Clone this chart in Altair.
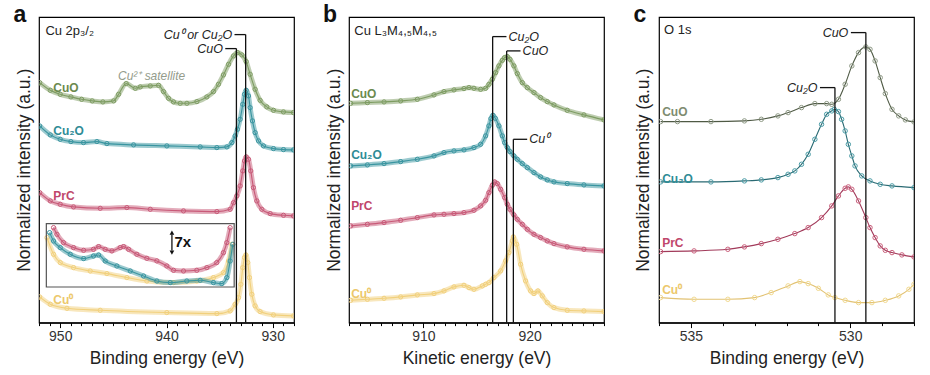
import altair as alt
import pandas as pd

FONT = "Liberation Sans"

# ---------------- Panel a : Cu 2p3/2 (binding energy, eV) ----------------
A_CUO_E = [951.94, 950.94, 950.0, 949.0, 947.99, 946.99, 945.99, 944.98, 944.51, 943.79, 942.94, 942.47,
           941.53, 940.75, 940.28, 939.81, 939.34, 938.71, 938.08, 937.14, 936.20, 935.58, 935.11, 934.64,
           934.16, 933.69, 933.32, 932.91, 932.50, 932.13, 931.66, 931.19, 930.56, 929.93, 928.99, 928.05]
A_CUO_I = [240.0, 232.3, 228.3, 225.7, 223.3, 221.7, 220.7, 221.7, 228.3, 239.0, 234.3, 235.7,
           236.7, 237.3, 231.0, 224.3, 220.7, 219.3, 219.3, 221.0, 225.7, 231.0, 238.3, 247.7,
           258.3, 266.7, 270.0, 267.7, 261.0, 248.3, 233.3, 222.3, 215.7, 212.3, 210.7, 210.0]
A_CU2O_E = [951.94, 950.94, 950.0, 949.0, 947.81, 946.55, 945.61, 943.10, 939.97, 936.83, 935.26, 934.32,
            933.85, 933.54, 933.32, 933.07, 932.82, 932.66, 932.50, 932.28, 932.13, 931.91, 931.66, 931.34,
            930.87, 929.93, 928.99, 928.05]
A_CU2O_I = [196.7, 187.7, 183.3, 181.0, 180.0, 181.0, 179.0, 177.7, 176.7, 175.7, 175.0, 175.7,
            180.0, 186.7, 193.3, 203.3, 218.3, 228.3, 232.3, 226.7, 215.0, 201.7, 190.0, 181.7,
            176.7, 174.0, 173.0, 172.7]
A_PRC_E = [951.94, 950.94, 950.0, 948.75, 946.24, 943.73, 941.53, 938.40, 935.26, 934.01, 933.69, 933.38,
           933.07, 932.82, 932.66, 932.50, 932.28, 932.07, 931.82, 931.50, 931.03, 930.24, 928.99, 928.05]
A_PRC_I = [130.0, 121.7, 118.3, 115.7, 114.3, 115.0, 113.3, 111.7, 111.0, 113.3, 120.0, 126.7,
           136.7, 151.7, 161.7, 165.7, 163.3, 151.7, 135.0, 121.7, 113.3, 109.0, 107.3, 106.7]
A_CU0_E = [951.94, 950.94, 949.37, 946.24, 939.97, 935.26, 934.01, 933.54, 933.22, 933.0, 932.82, 932.66,
           932.53, 932.35, 932.19, 931.97, 931.66, 931.19, 929.93, 928.05]
A_CU0_I = [25.7, 18.3, 14.3, 12.3, 10.0, 9.0, 11.7, 18.3, 25.0, 38.3, 55.0, 65.0,
           67.7, 60.0, 45.0, 28.3, 16.7, 11.0, 7.7, 6.7]
# inset (7x magnified, drawn in panel coordinates)
IN_PRC_E = [950.63, 950.31, 949.69, 948.75, 947.80, 946.87, 946.39, 945.77, 945.14, 944.36, 944.04, 943.57,
            942.79, 941.85, 940.91, 939.97, 939.34, 938.40, 937.15, 936.20, 935.27, 934.64, 934.32, 934.01]
IN_PRC_I = [95.0, 88.3, 80.0, 75.0, 72.3, 73.3, 76.0, 73.3, 71.7, 75.0, 76.0, 73.3,
            68.3, 64.3, 61.7, 56.6, 52.3, 51.6, 52.3, 55.0, 60.0, 70.0, 80.0, 95.0]
IN_CU2O_E = [951.0, 950.63, 950.0, 949.06, 947.80, 946.87, 946.39, 945.77, 944.67, 943.41, 942.16, 940.91,
             939.65, 938.09, 936.83, 935.58, 934.80, 934.32, 934.01, 933.76]
IN_CU2O_I = [90.0, 81.6, 75.0, 68.3, 64.0, 66.6, 67.6, 61.6, 56.6, 51.6, 46.6, 41.6,
             40.0, 41.6, 42.3, 40.0, 39.0, 45.0, 61.6, 78.3]
IN_CU0_E = [951.25, 950.63, 950.0, 948.75, 947.18, 945.61, 943.73, 941.85, 939.34, 937.15, 935.58, 934.64,
            934.17, 933.85]
IN_CU0_I = [85.0, 68.3, 60.0, 55.0, 51.6, 49.0, 45.0, 41.6, 40.0, 41.6, 45.0, 50.0, 61.6, 78.3]
INSET_BOX = [951.31, 933.63, 35.6, 99.0]          # E left, E right, I bottom, I top
ARROW = [939.49, 70.0, 90.0]                      # E, I bottom, I top

# ---------------- Panel b : Cu LMM (kinetic energy, eV) ----------------
B_E = [903.16, 904.73, 906.30, 907.86, 909.43, 911.0, 911.94, 912.88, 913.82, 914.29, 914.76, 915.39,
       915.86, 916.17, 916.49, 916.80, 917.11, 917.43, 917.65, 917.90, 918.15, 918.52, 918.84, 919.31,
       919.78, 920.41, 921.03, 921.66, 922.29, 923.54, 925.11, 926.99]
B_CUO_I = [219.3, 220.0, 220.7, 221.7, 223.3, 227.7, 231.0, 232.7, 234.0, 235.0, 234.3, 233.3,
           234.3, 238.3, 243.3, 250.0, 256.7, 262.3, 265.0, 266.0, 263.3, 256.7, 249.0, 240.0,
           235.0, 230.0, 225.0, 221.0, 217.7, 212.3, 207.7, 202.7]
B_CU2O_E = [903.16, 904.73, 906.30, 907.86, 909.43, 911.0, 911.94, 912.88, 913.82, 914.76, 915.39, 915.86,
            916.17, 916.36, 916.55, 916.77, 917.11, 917.43, 917.65, 917.90, 918.15, 918.52, 918.84, 919.31,
            919.78, 920.41, 921.03, 921.66, 922.29, 923.54, 925.11, 926.99]
B_CU2O_I = [156.7, 157.7, 159.0, 161.0, 163.3, 166.7, 170.0, 171.7, 172.7, 175.0, 178.3, 186.7,
            196.7, 204.0, 207.3, 204.3, 196.7, 186.7, 180.0, 175.0, 171.0, 166.7, 163.3, 159.0,
            155.0, 150.0, 145.7, 142.7, 140.7, 139.0, 137.7, 136.7]
B_PRC_E = [903.16, 904.73, 906.30, 907.86, 909.43, 911.0, 911.94, 912.88, 913.82, 914.76, 915.39, 915.86,
           916.17, 916.49, 916.71, 916.96, 917.27, 917.65, 917.90, 918.15, 918.52, 918.84, 919.31, 919.78,
           920.41, 921.03, 921.66, 922.29, 923.54, 925.11, 926.99]
B_PRC_I = [96.7, 98.3, 100.0, 102.3, 105.0, 107.7, 108.3, 109.0, 110.0, 112.3, 116.7, 122.3,
           130.0, 137.3, 140.7, 139.0, 133.3, 125.0, 118.3, 113.3, 107.7, 103.3, 98.3, 93.3,
           88.3, 85.0, 81.7, 79.0, 75.7, 73.3, 71.7]
B_CU0_E = [903.16, 904.73, 906.30, 907.86, 909.43, 911.0, 911.94, 912.88, 913.82, 914.29, 914.76, 915.55,
           915.86, 916.17, 916.64, 917.27, 917.74, 918.05, 918.37, 918.47, 918.78, 919.15, 919.62, 920.09,
           920.41, 920.78, 921.19, 921.66, 922.29, 923.54, 925.11, 926.99]
B_CU0_I = [22.3, 23.3, 24.3, 25.7, 27.7, 29.0, 31.7, 35.7, 37.3, 35.0, 33.3, 36.7,
           38.3, 40.0, 45.0, 51.7, 61.7, 70.0, 81.7, 85.7, 78.3, 58.3, 41.7, 31.7,
           29.0, 31.7, 26.7, 20.0, 15.0, 12.3, 11.7, 11.0]

# ---------------- Panel c : O 1s (binding energy, eV) ----------------
C_CUO_E = [535.95, 535.42, 534.37, 533.32, 532.79, 532.27, 531.95, 531.53, 531.11, 530.74, 530.58, 530.37,
           530.16, 529.95, 529.74, 529.51, 529.38, 529.22, 529.06, 528.90, 528.69, 528.48, 528.27, 528.0]
C_CUO_I = [201.0, 201.0, 201.0, 201.7, 203.3, 206.7, 210.0, 215.0, 219.0, 219.0, 218.3, 223.3,
           238.3, 256.7, 270.0, 275.7, 273.3, 261.7, 245.0, 229.0, 213.3, 206.7, 202.7, 200.7]
C_CU2O_E = [535.95, 534.37, 533.32, 532.79, 532.27, 531.95, 531.74, 531.53, 531.32, 531.11, 530.90, 530.74,
            530.58, 530.50, 530.37, 530.27, 530.16, 530.06, 529.95, 529.85, 529.64, 529.38, 529.06, 528.69,
            528.0]
C_CU2O_I = [140.7, 140.7, 141.7, 142.7, 145.0, 148.3, 151.7, 158.3, 168.3, 183.3, 198.3, 208.3,
            211.7, 213.3, 211.0, 203.3, 191.7, 178.3, 166.7, 156.7, 146.7, 141.7, 138.3, 136.7,
            135.0]
C_PRC_E = [535.95, 534.9, 533.84, 533.32, 532.79, 532.27, 531.74, 531.32, 530.90, 530.58, 530.37, 530.16,
           530.06, 529.95, 529.74, 529.51, 529.38, 529.22, 529.06, 528.90, 528.69, 528.38, 528.0]
C_PRC_I = [71.0, 71.7, 73.3, 75.7, 79.0, 83.3, 89.0, 95.0, 105.0, 116.7, 126.7, 134.3,
           135.7, 133.3, 121.7, 105.0, 95.0, 85.0, 76.7, 72.3, 70.0, 67.7, 65.7]
C_CU0_E = [535.95, 534.9, 533.84, 533.0, 532.48, 531.95, 531.58, 531.32, 531.0, 530.69, 530.48, 530.16,
           529.74, 529.32, 528.9, 528.48, 528.16, 528.0]
C_CU0_I = [25.0, 23.3, 23.3, 25.0, 30.0, 36.7, 41.0, 39.0, 34.3, 27.7, 25.0, 22.3,
           20.0, 20.0, 22.3, 26.7, 33.3, 38.3]

SERIES_LABELS = ["CuO", "Cu₂O", "PrC", "Cu⁰"]
A_LABEL_I = [235.0, 191.7, 126.7, 23.0]
B_LABEL_I = [229.0, 167.7, 116.7, 28.3]
C_LABEL_I = [211.0, 143.3, 80.0, 32.3]

# reference lines: [E, top]
A_REF = [[933.42, 274.0], [932.55, 288.0]]
A_REF_TXT = ["CuO", "Cu⁰ or Cu₂O"]
B_REF = [[916.52, 286.0], [917.84, 271.7], [918.47, 183.3]]
B_REF_TXT = ["Cu₂O", "CuO", "Cu⁰"]
C_REF = [[530.48, 235.0], [529.51, 290.0]]
C_REF_TXT = ["Cu₂O", "CuO"]

# ------------- styles -------------
COL_AB = {"CuO": "#7d9c62", "Cu2O": "#3a95a0", "PrC": "#c85a78", "Cu0": "#f1d07c"}
COL_C = {"CuO": "#8f9a86", "Cu2O": "#4b9ca6", "PrC": "#c9607c", "Cu0": "#f0d88f"}
LINE_C = {"CuO": "#4f5a45", "Cu2O": "#2a6a73", "PrC": "#a13a5a", "Cu0": "#e2c273"}
LAB_COL = ["#6b8a4e", "#2f8c96", "#c0476b", "#ecc86c"]
LAB_COL_C = ["#7e8c70", "#2f8c96", "#c0476b", "#ecc86c"]

H = 305.6
W = 255


def xenc(dom, rev, title, vals, major):
    axis = alt.Axis(
        title=title, values=vals,
        labelExpr=f"datum.value % {major} === 0 ? datum.label : ''",
        tickSize={"condition": {"test": f"datum.value % {major} === 0", "value": 5}, "value": 3},
        tickColor="black", tickWidth=1, domainColor="black", domainWidth=1.2, grid=False,
        labelFont=FONT, labelFontSize=14, labelColor="#333", labelPadding=2,
        titleFont=FONT, titleFontSize=17.5, titleFontWeight="normal", titleColor="#222", titlePadding=6)
    return alt.X("E:Q", scale=alt.Scale(domain=dom, reverse=rev, nice=False, zero=False), axis=axis)


YENC = alt.Y("I:Q", scale=alt.Scale(domain=[0, H], nice=False, zero=False),
             axis=alt.Axis(title="Normalized intensity (a.u.)", labels=False, ticks=False, domain=False,
                           grid=False, titleFont=FONT, titleFontSize=17.5, titleFontWeight="normal",
                           titleColor="#222", titlePadding=6))


def curve(E, I, col, dark, band, size, X):
    df = pd.DataFrame({"E": E, "I": I})
    base = alt.Chart(df).encode(x=X, y=YENC)
    layers = []
    if band > 0:
        layers.append(base.mark_line(color=col, strokeWidth=band, opacity=0.5, interpolate="monotone", clip=True))
    layers.append(base.mark_line(color=dark, strokeWidth=1.1, interpolate="monotone", clip=True))
    layers.append(base.mark_point(shape="circle", filled=False, color=col, size=size, strokeWidth=1,
                                  opacity=1, clip=True))
    return layers


def refs(REF, TXT, X, dE, gap, align):
    E = [r[0] for r in REF]
    top = [r[1] for r in REF]
    vdf = pd.DataFrame({"E": E, "I": [0.0] * len(E), "I2": top})
    hdf = pd.DataFrame({"E": E, "E2": [e + dE for e in E], "I": top})
    tdf = pd.DataFrame({"E": [e + dE + gap for e in E], "I": top, "t": TXT})
    v = alt.Chart(vdf).mark_rule(color="#111", strokeWidth=1.3).encode(x=X, y=YENC, y2="I2:Q")
    h = alt.Chart(hdf).mark_rule(color="#111", strokeWidth=1.3).encode(x=X, x2="E2:Q", y=YENC)
    t = alt.Chart(tdf).mark_text(font=FONT, fontSize=12.5, fontStyle="italic", color="#222",
                                 align=align, baseline="middle").encode(x=X, y=YENC, text="t:N")
    return [v, h, t]


def series_labels(E0, Is, cols, X):
    df = pd.DataFrame({"E": [E0] * 4, "I": Is, "t": SERIES_LABELS, "c": cols})
    return alt.Chart(df).mark_text(font=FONT, fontSize=12, fontWeight="bold", align="left",
                                   baseline="middle").encode(x=X, y=YENC, text="t:N",
                                                             color=alt.Color("c:N", scale=None))


def note(E0, I0, txt, X, size=13, style="normal", color="#222", align="left", weight="normal"):
    df = pd.DataFrame({"E": [E0], "I": [I0], "t": [txt]})
    return alt.Chart(df).mark_text(font=FONT, fontSize=size, fontStyle=style, color=color, align=align,
                                   fontWeight=weight, baseline="middle").encode(x=X, y=YENC, text="t:N")


def letter(ch):
    df = pd.DataFrame({"t": [ch]})
    return alt.Chart(df).mark_text(font=FONT, fontSize=23, fontWeight="bold", color="#111", align="center",
                                   baseline="alphabetic").encode(text="t:N", x=alt.value(-19), y=alt.value(5))


# ---------- panel a ----------
XA = xenc([928, 952], True, "Binding energy (eV)", list(range(928, 953)), 10)
la = []
la += curve(A_CUO_E, A_CUO_I, COL_AB["CuO"], COL_AB["CuO"], 5, 18, XA)
la += curve(A_CU2O_E, A_CU2O_I, COL_AB["Cu2O"], COL_AB["Cu2O"], 5, 18, XA)
la += curve(A_PRC_E, A_PRC_I, COL_AB["PrC"], COL_AB["PrC"], 5, 18, XA)
la += curve(A_CU0_E, A_CU0_I, COL_AB["Cu0"], COL_AB["Cu0"], 5, 18, XA)
la += curve(IN_CU0_E, IN_CU0_I, COL_AB["Cu0"], COL_AB["Cu0"], 5, 18, XA)
la += curve(IN_CU2O_E, IN_CU2O_I, COL_AB["Cu2O"], COL_AB["Cu2O"], 5, 18, XA)
la += curve(IN_PRC_E, IN_PRC_I, COL_AB["PrC"], COL_AB["PrC"], 5, 18, XA)
box = pd.DataFrame({"E": [INSET_BOX[0]], "E2": [INSET_BOX[1]], "I": [INSET_BOX[2]], "I2": [INSET_BOX[3]]})
la.append(alt.Chart(box).mark_rect(fillOpacity=0, stroke="#555", strokeWidth=1.2).encode(
    x=XA, x2="E2:Q", y=YENC, y2="I2:Q"))
arr = pd.DataFrame({"E": [ARROW[0]], "I": [ARROW[1] + 2], "I2": [ARROW[2] - 2]})
la.append(alt.Chart(arr).mark_rule(color="#111", strokeWidth=1.3).encode(x=XA, y=YENC, y2="I2:Q"))
tri = pd.DataFrame({"E": [ARROW[0], ARROW[0]], "I": [ARROW[2], ARROW[1]], "s": ["triangle-up", "triangle-down"]})
la.append(alt.Chart(tri).mark_point(filled=True, color="#111", size=22, opacity=1).encode(
    x=XA, y=YENC, shape=alt.Shape("s:N", scale=None)))
la.append(note(939.25, 80.5, "7x", XA, size=15, weight="bold", color="#111"))
la += refs(A_REF, A_REF_TXT, XA, 1.05, 0.22, "right")
la.append(series_labels(950.66, A_LABEL_I, LAB_COL, XA))
la.append(note(951.4, 291.6, "Cu 2p₃/₂", XA))
la.append(note(941.4, 246.6, "Cu²⁺ satellite", XA, size=12, style="italic", color="#949c8c", align="center"))
la.append(letter("a"))
pa = alt.layer(*la).properties(width=W, height=H)

# ---------- panel b ----------
XB = xenc([903, 927], False, "Kinetic energy (eV)", list(range(903, 928)), 10)
lb = []
lb += curve(B_E, B_CUO_I, COL_AB["CuO"], COL_AB["CuO"], 5, 18, XB)
lb += curve(B_CU2O_E, B_CU2O_I, COL_AB["Cu2O"], COL_AB["Cu2O"], 5, 18, XB)
lb += curve(B_PRC_E, B_PRC_I, COL_AB["PrC"], COL_AB["PrC"], 5, 18, XB)
lb += curve(B_CU0_E, B_CU0_I, COL_AB["Cu0"], COL_AB["Cu0"], 5, 18, XB)
lb += refs(B_REF, B_REF_TXT, XB, 1.3, 0.2, "left")
lb.append(series_labels(903.2, B_LABEL_I, LAB_COL, XB))
lb.append(note(903.5, 291.7, "Cu L₃M₄,₅M₄,₅", XB))
lb.append(letter("b"))
pb = alt.layer(*lb).properties(width=W, height=H)

# ---------- panel c ----------
XC = xenc([528, 536], True, "Binding energy (eV)", list(range(528, 537)), 5)
lc = []
lc += curve(C_CUO_E, C_CUO_I, COL_C["CuO"], LINE_C["CuO"], 0, 20, XC)
lc += curve(C_CU2O_E, C_CU2O_I, COL_C["Cu2O"], LINE_C["Cu2O"], 0, 20, XC)
lc += curve(C_PRC_E, C_PRC_I, COL_C["PrC"], LINE_C["PrC"], 0, 20, XC)
lc += curve(C_CU0_E, C_CU0_I, COL_C["Cu0"], LINE_C["Cu0"], 0, 20, XC)
lc += refs(C_REF, C_REF_TXT, XC, 0.47, 0.08, "right")
lc.append(series_labels(535.9, C_LABEL_I, LAB_COL_C, XC))
lc.append(note(535.84, 292.3, "O 1s", XC))
lc.append(letter("c"))
pc = alt.layer(*lc).properties(width=W, height=H)

chart = alt.hconcat(pa, pb, pc, spacing=55, bounds="flush").configure_view(
    stroke="black", strokeWidth=1.2).properties(
    padding={"left": 13, "top": 3, "right": 2, "bottom": 2}, background="white")

chart.save("out.html", embed_options={"renderer": "svg", "actions": False})
